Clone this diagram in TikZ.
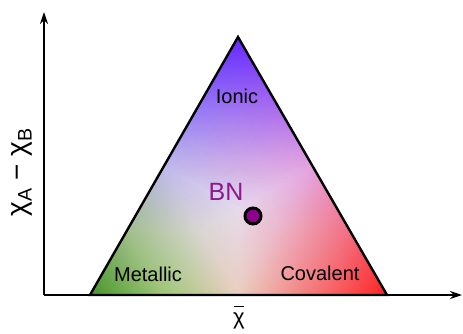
\documentclass[tikz,border=0pt]{standalone}
\usepackage{fontspec}
\setmainfont{Liberation Sans}
\usepackage{pgfplots}
\pgfplotsset{compat=1.18}
\usetikzlibrary{arrows.meta}
\definecolor{cA}{RGB}{100,40,255}
\definecolor{cL}{RGB}{70,150,40}
\definecolor{cR}{RGB}{255,35,35}
\definecolor{mAL}{RGB}{190,184,236}
\definecolor{mAR}{RGB}{228,162,224}
\definecolor{mLR}{RGB}{234,206,192}
\definecolor{cC}{RGB}{230,218,236}
\definecolor{qLa}{RGB}{160,190,140}
\definecolor{qLb}{RGB}{160,198,120}
\definecolor{qLc}{RGB}{218,214,212}
\definecolor{qRd}{RGB}{242,110,130}
\definecolor{qRe}{RGB}{245,120,120}
\definecolor{qRf}{RGB}{236,186,204}
\definecolor{bnpurple}{RGB}{140,25,140}
\definecolor{dotfill}{RGB}{140,0,140}
\tikzset{
  axisline/.style={line width=1.6pt,-{Stealth[length=12pt,width=8pt]}},
  triline/.style={line width=2.4pt,line join=miter},
  region/.style={font=\fontsize{20}{24}\selectfont,text=black},
}
\begin{document}
\begin{tikzpicture}[x=1pt,y=1pt]
\useasboundingbox (0,0) rectangle (463,333);
\begin{axis}[x=1pt,y=1pt,hide axis,anchor=origin,at={(0,0)},disabledatascaling,
  xmin=0,xmax=463,ymin=0,ymax=333,clip=false]
\addplot[patch,shader=interp,mesh/color input=explicit] table[meta=c]{
x y c
238 296 color=cA
164 167 color=mAL
312.5 167 color=mAR
90 38 color=cL
127 102.5 color=qLa
164.25 38 color=qLb
127 102.5 color=qLa
164 167 color=mAL
201.25 102.5 color=qLc
164.25 38 color=qLb
201.25 102.5 color=qLc
238.5 38 color=mLR
127 102.5 color=qLa
164.25 38 color=qLb
201.25 102.5 color=qLc
387 38 color=cR
349.75 102.5 color=qRd
312.75 38 color=qRe
349.75 102.5 color=qRd
312.5 167 color=mAR
275.5 102.5 color=qRf
312.75 38 color=qRe
275.5 102.5 color=qRf
238.5 38 color=mLR
349.75 102.5 color=qRd
312.75 38 color=qRe
275.5 102.5 color=qRf
164 167 color=mAL
312.5 167 color=mAR
238.3 124 color=cC
312.5 167 color=mAR
275.5 102.5 color=qRf
238.3 124 color=cC
275.5 102.5 color=qRf
238.5 38 color=mLR
238.3 124 color=cC
238.5 38 color=mLR
201.25 102.5 color=qLc
238.3 124 color=cC
201.25 102.5 color=qLc
164 167 color=mAL
238.3 124 color=cC
};
\end{axis}
\coordinate (P) at (238,296);
\coordinate (L) at (90,38);
\coordinate (R) at (387,38);
\coordinate (O) at (44,38);
\coordinate (ytip) at (44,321);
\coordinate (xtip) at (462,38);
\draw[triline] (P) -- (L) -- (R) -- cycle;
\draw[axisline] (O) -- (ytip);
\draw[axisline] (O) -- (xtip);
\node[region] (ionic) at (237,237) {Ionic};
\node[region] (metallic) at (148,59) {Metallic};
\node[region] (covalent) at (320,60) {Covalent};
\node[text=bnpurple,font=\fontsize{25}{30}\selectfont] (bn) at (226,141) {BN};
\node[circle,draw=black,line width=3pt,fill=dotfill,minimum size=16pt,inner sep=0pt] (dot) at (253,117) {};
\node[font=\fontsize{22}{26}\selectfont,inner sep=0pt] (xlab) at (239,12) {χ};
\draw[line width=1.8pt] ([xshift=-5pt,yshift=6pt]xlab.north) -- ([xshift=5pt,yshift=6pt]xlab.north);
\node[rotate=90,font=\fontsize{28}{32}\selectfont] (ylab) at (22,161) {χ\textsubscript{A} − χ\textsubscript{B}};
\end{tikzpicture}
\end{document}
